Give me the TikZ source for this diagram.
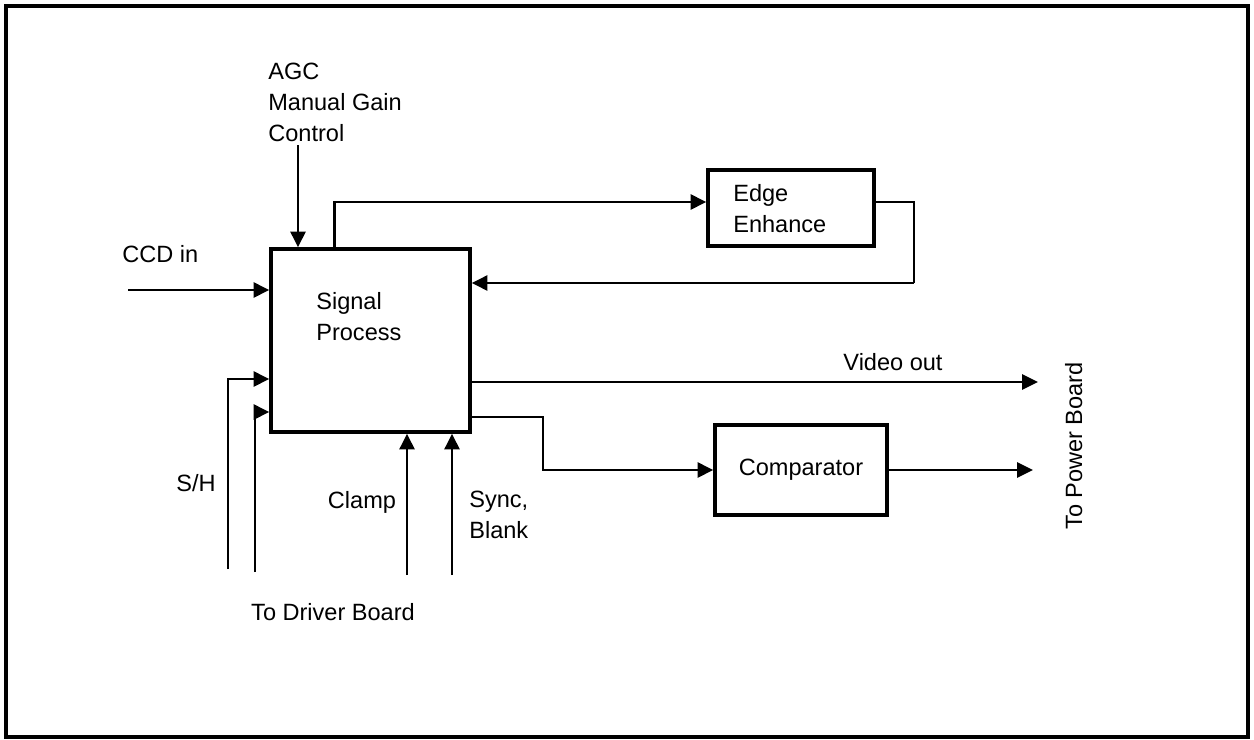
\documentclass[tikz,border=0pt]{standalone}
\usepackage{fontspec}
\setmainfont{Liberation Sans}
\usetikzlibrary{arrows.meta,calc}
\begin{document}
\begin{tikzpicture}[x=0.02cm,y=-0.02cm,
  box/.style={draw,line width=1.9pt,inner sep=0pt},
  lbl/.style={inner sep=0pt,font=\fontsize{13.4}{17.6}\selectfont},
  mlbl/.style={lbl,align=left,anchor=west},
  conn/.style={line width=1.6pt},
  arr/.style={conn,-{Triangle[length=9pt,width=8.5pt]}}]
\useasboundingbox (0,0) rectangle (1254,740);
\draw[line width=1.9pt] (6,6) rectangle (1248,737);
% boxes
\node[box,minimum width=3.98cm,minimum height=3.66cm] (sp) at (370.5,340.5) {};
\node[box,minimum width=3.32cm,minimum height=1.52cm] (ee) at (791,208) {};
\node[box,lbl,minimum width=3.44cm,minimum height=1.8cm] (cmp) at (801,470) {Comparator};
% labels
\node[mlbl] (sptext) at (316,317) {Signal\\Process};
\node[mlbl] (eetext) at (733,209) {Edge\\Enhance};
\node[mlbl] (agc) at (268,102.5) {AGC\\Manual Gain\\Control};
\node[lbl,anchor=base west] (ccd) at (122,262) {CCD in};
\node[lbl,anchor=base] (sh) at (196,491) {S/H};
\node[lbl,anchor=base] (clamplbl) at (362,508) {Clamp};
\node[mlbl] (synclbl) at (469,515) {Sync,\\Blank};
\node[lbl,anchor=base] (driver) at (333,620) {To Driver Board};
\node[lbl,anchor=base] (video) at (893,370) {Video out};
\node[lbl,anchor=base,rotate=90] (power) at (1082,446) {To Power Board};
% free ends
\coordinate (agcTop) at (298,145);
\coordinate (ccdL) at (128,290);
\coordinate (sh1) at (228,569);
\coordinate (sh2) at (255,572);
\coordinate (clamp) at (407,575);
\coordinate (sync) at (452,575);
\coordinate (eeR) at (914,283);
\coordinate (vid) at (1038,382);
\coordinate (bend) at (543,417);
\coordinate (cmpout) at (1033,470);
% connectors
\draw[arr] (agcTop) -- (agcTop |- sp.north);
\draw[arr] (sp.north west) ++(65,0) |- ($(ee.west)+(0,-6)$);
\draw[conn] ($(ee.east)+(0,-6)$) -| (eeR);
\draw[arr] (eeR) -- (eeR -| sp.east);
\draw[arr] (ccdL) -- (ccdL -| sp.west);
\draw[arr] (sh1) |- ($(sp.west)+(0,38.5)$);
\draw[arr] (sh2) |- ($(sp.west)+(0,71.5)$);
\draw[arr] (clamp) -- (clamp |- sp.south);
\draw[arr] (sync) -- (sync |- sp.south);
\draw[arr] (vid -| sp.east) -- (vid);
\draw[arr] (bend -| sp.east) -- (bend) |- (cmp.west);
\draw[arr] (cmp.east) -- (cmpout);
\end{tikzpicture}
\end{document}
